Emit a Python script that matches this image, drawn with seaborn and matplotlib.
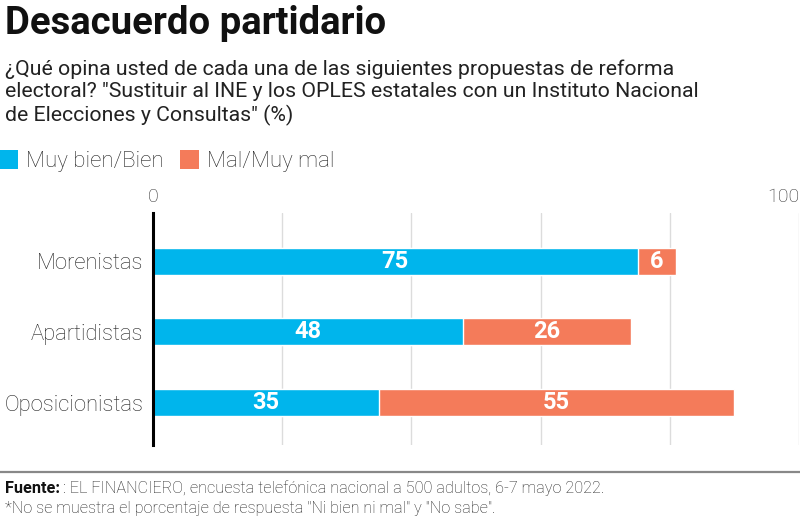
import matplotlib
matplotlib.use("Agg")
import matplotlib.pyplot as plt
import seaborn as sns
import pandas as pd
from matplotlib.patches import Patch

categorias = ["Morenistas", "Apartidistas", "Oposicionistas"]
muy_bien_bien = [75, 48, 35]
mal_muy_mal = [6, 26, 55]
series = ["Muy bien/Bien", "Mal/Muy mal"]
xticks = [0, 20, 40, 60, 80, 100]
xticklabels = ["0", "", "", "", "", "100"]

AZUL = "#00b5ec"
NARANJA = "#f47b5a"

sns.set_theme(style="white")
plt.rcParams["font.family"] = ["Roboto", "DejaVu Sans"]

df = pd.DataFrame({"cat": categorias, "bien": muy_bien_bien, "mal": mal_muy_mal})
df["total"] = df["bien"] + df["mal"]

fig = plt.figure(figsize=(8, 5.17), dpi=100)
ax = fig.add_axes([0.19125, 0.139, 0.8075, 0.449])

sns.barplot(data=df, x="total", y="cat", orient="h", color=NARANJA,
            saturation=1, width=0.38, ax=ax, zorder=3)
sns.barplot(data=df, x="bien", y="cat", orient="h", color=AZUL,
            saturation=1, width=0.38, ax=ax, zorder=4)

ax.set_xlim(0, 100)
ax.set_ylim(2.6, -0.68)
ax.set_xlabel("")
ax.set_ylabel("")
ax.xaxis.tick_top()
ax.set_xticks(xticks)
ax.set_xticklabels(xticklabels, fontsize=14, fontweight="light", color="#333333")
ax.tick_params(axis="x", length=0, pad=5)
ax.tick_params(axis="y", length=0, pad=7)
for lab in ax.get_yticklabels():
    lab.set_fontsize(15.8)
    lab.set_fontweight("light")
    lab.set_color("#222222")
xl = ax.get_xticklabels()
xl[-1].set_ha("right")

ax.grid(axis="x", color="#dcdcdc", linewidth=1, zorder=0)
ax.grid(axis="y", visible=False)
for s in ["top", "right", "bottom"]:
    ax.spines[s].set_visible(False)
ax.spines["left"].set_color("black")
ax.spines["left"].set_linewidth(2.2)
ax.spines["left"].set_zorder(6)

for i, (b, m) in enumerate(zip(muy_bien_bien, mal_muy_mal)):
    ax.text(b / 2, i, str(b), ha="center", va="center", color="white",
            fontsize=17, fontweight="bold", zorder=7)
    ax.text(b + m / 2, i, str(m), ha="center", va="center", color="white",
            fontsize=17, fontweight="bold", zorder=7)

# Title and subtitle
fig.text(0.006, 0.99, "Desacuerdo partidario", ha="left", va="top",
         fontsize=27.5, fontweight="bold", color="#111111")
fig.text(0.006, 0.885,
         "¿Qué opina usted de cada una de las siguientes propuestas de reforma\n"
         "electoral? \"Sustituir al INE y los OPLES estatales con un Instituto Nacional\n"
         "de Elecciones y Consultas\" (%)",
         ha="left", va="top", fontsize=15.3, color="#222222", linespacing=1.22)

# Legend
handles = [Patch(facecolor=AZUL, edgecolor="none"), Patch(facecolor=NARANJA, edgecolor="none")]
fig.legend(handles, series, loc="center left", bbox_to_anchor=(-0.026, 0.688),
           ncol=2, frameon=False, handlelength=0.85, handleheight=0.95,
           handletextpad=0.35, columnspacing=0.75,
           prop={"size": 16, "weight": "light"})

# Footer
fig.add_artist(plt.Line2D([0, 1], [0.087, 0.087], color="#888888", linewidth=1.6,
                          transform=fig.transFigure))
t1 = fig.text(0.006, 0.055, "Fuente:", ha="left", va="center", fontsize=11.7,
              fontweight="bold", color="#111111")
fig.canvas.draw()
bb = t1.get_window_extent(renderer=fig.canvas.get_renderer())
x1 = bb.x1 / fig.bbox.width
fig.text(x1 + 0.004, 0.055,
         ": EL FINANCIERO, encuesta telefónica nacional a 500 adultos, 6-7 mayo 2022.",
         ha="left", va="center", fontsize=11.7, fontweight="light", color="#222222")
fig.text(0.006, 0.016,
         "*No se muestra el porcentaje de respuesta \"Ni bien ni mal\" y \"No sabe\".",
         ha="left", va="center", fontsize=11.7, fontweight="light", color="#222222")

fig.savefig("out.png", dpi=100)
